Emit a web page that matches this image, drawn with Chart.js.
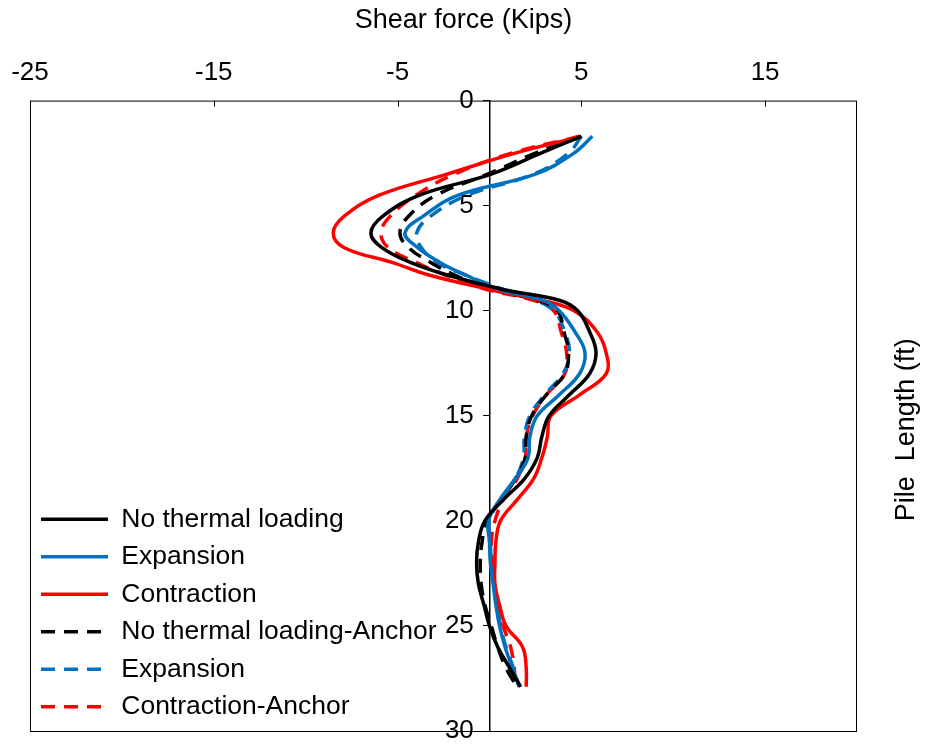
<!DOCTYPE html>
<html>
<head>
<meta charset="utf-8">
<script src="https://cdn.jsdelivr.net/npm/chart.js@4.4.0/dist/chart.umd.min.js"></script>
<style>
html, body { margin: 0; padding: 0; background: #fff; }
</style>
</head>
<body>
<canvas id="myChart" width="927" height="746"></canvas>
<script>
// depth below pile head (ft)
const depth = [1.7, 2.5, 3.5, 4.5, 5.5, 6.3, 7, 7.7, 8.3, 9, 9.5, 10, 11, 12, 13, 14, 15, 16, 17, 18, 19, 20, 21, 22, 23, 24, 25, 26, 27, 27.9];

// shear force (kips)
const noThermal = [5.0, 2.8, 0.1, -3.8, -5.8, -6.45, -5.85, -4.3, -2.3, 0.8, 3.8, 4.8, 5.45, 5.8, 5.45, 4.35, 3.25, 2.85, 2.6, 1.9, 0.75, -0.25, -0.6, -0.7, -0.6, -0.3, 0.0, 0.45, 1.1, 1.7];
const expansion = [5.6, 4.6, 2.5, -1.7, -3.6, -4.6, -3.9, -2.7, -1.3, 0.6, 2.9, 3.8, 4.65, 5.2, 4.9, 3.8, 2.6, 2.2, 2.1, 1.4, 0.55, -0.05, 0.0, 0.05, 0.2, 0.35, 0.55, 0.85, 1.25, 1.65];
const contraction = [5.0, 1.4, -2.3, -6.0, -7.9, -8.5, -7.9, -5.3, -3.3, 0.1, 2.8, 4.6, 5.85, 6.35, 6.35, 4.9, 3.35, 3.15, 2.85, 2.4, 1.5, 0.6, 0.35, 0.3, 0.3, 0.55, 0.9, 1.8, 2.0, 2.0];
const noThermalAnchor = [5.0, 2.5, -0.1, -2.9, -4.4, -4.87, -4.4, -3.2, -1.9, 0.2, 2.6, 3.7, 4.05, 4.3, 4.1, 3.1, 2.3, 2.0, 1.95, 1.4, 0.65, -0.15, -0.4, -0.5, -0.45, -0.25, 0.1, 0.45, 0.9, 1.5];
const expansionAnchor = [5.0, 4.3, 2.4, -1.2, -3.2, -3.96, -3.7, -2.85, -1.3, 0.8, 2.5, 3.5, 4.1, 4.35, 4.0, 3.0, 2.2, 1.9, 1.85, 1.4, 0.6, 0.0, 0.05, 0.1, 0.25, 0.45, 0.6, 0.9, 1.3, 1.6];
const contractionAnchor = [4.9, 1.2, -1.9, -4.0, -5.4, -5.9, -5.5, -4.0, -2.4, -0.1, 2.4, 3.5, 3.9, 4.2, 4.1, 3.1, 2.35, 2.0, 1.95, 1.5, 0.75, 0.3, 0.1, 0.15, 0.25, 0.5, 0.75, 1.15, 1.35, 1.4];

const xTicks = [-25, -15, -5, 5, 15];

const BLACK = '#000000';
const BLUE = '#0070C0';
const RED = '#FF0000';
const FONT = '"Liberation Sans", Arial, sans-serif';

Chart.defaults.font.family = FONT;
Chart.defaults.color = '#000';

function pts(vals) {
    return vals.map((v, i) => ({ x: v, y: depth[i] }));
}

function series(label, vals, color, dashed) {
    return {
        label: label,
        data: pts(vals),
        showLine: true,
        borderColor: color,
        backgroundColor: color,
        borderWidth: 3.5,
        borderDash: dashed ? [14, 9] : [],
        pointRadius: 0,
        tension: 0.4,
        fill: false
    };
}

// no extra room for the end labels of the vertical axes
function noPad(axis) {
    axis.paddingTop = 0;
    axis.paddingBottom = 0;
}

// frame, inward top ticks, right-hand axis title, legend placed in plot area
const framePlugin = {
    id: 'frame',
    afterLayout(chart) {
        const lg = chart.legend;
        const a = chart.chartArea;
        if (lg) {
            lg.top = a.top;
            lg.bottom = a.bottom;
            lg.height = a.bottom - a.top;
        }
    },
    afterDraw(chart) {
        const ctx = chart.ctx;
        const a = chart.chartArea;
        const xs = chart.scales.x;
        ctx.save();
        ctx.strokeStyle = '#000';
        ctx.lineWidth = 1;
        ctx.strokeRect(a.left + 0.5, a.top + 0.5, a.right - a.left - 1, a.bottom - a.top);
        xTicks.forEach(v => {
            const px = Math.round(xs.getPixelForValue(v)) + 0.5;
            ctx.beginPath();
            ctx.moveTo(px, a.top);
            ctx.lineTo(px, a.top + 6);
            ctx.stroke();
        });
        ctx.translate(a.right + 50, (a.top + a.bottom) / 2 + 14);
        ctx.rotate(-Math.PI / 2);
        ctx.font = '27px ' + FONT;
        ctx.fillStyle = '#000';
        ctx.textAlign = 'center';
        ctx.textBaseline = 'middle';
        ctx.fillText('Pile  Length (ft)', 0, 0);
        ctx.restore();
    }
};

const ctx = document.getElementById('myChart').getContext('2d');
const myChart = new Chart(ctx, {
    type: 'scatter',
    data: {
        datasets: [
            series('No thermal loading', noThermal, BLACK, false),
            series('Expansion', expansion, BLUE, false),
            series('Contraction', contraction, RED, false),
            series('No thermal loading-Anchor', noThermalAnchor, BLACK, true),
            series('Expansion', expansionAnchor, BLUE, true),
            series('Contraction-Anchor', contractionAnchor, RED, true)
        ]
    },
    options: {
        responsive: false,
        animation: false,
        layout: { padding: { left: 0, right: 0, top: 4, bottom: 15 } },
        plugins: {
            title: {
                display: true,
                text: 'Shear force (Kips)',
                font: { size: 27, weight: 'normal' },
                color: '#000',
                padding: { top: 0, bottom: 9 }
            },
            legend: {
                position: 'chartArea',
                align: 'end',
                labels: {
                    usePointStyle: true,
                    pointStyle: 'line',
                    pointStyleWidth: 67,
                    boxHeight: 26,
                    padding: 11,
                    font: { size: 26.5 },
                    color: '#000',
                    generateLabels(chart) {
                        const items = Chart.defaults.plugins.legend.labels.generateLabels(chart);
                        items.forEach(it => {
                            const ds = chart.data.datasets[it.datasetIndex];
                            it.lineDash = ds.borderDash;
                            it.lineWidth = ds.borderWidth;
                            it.strokeStyle = ds.borderColor;
                        });
                        return items;
                    }
                }
            },
            tooltip: { enabled: false }
        },
        scales: {
            x: {
                type: 'linear',
                position: 'top',
                min: -25,
                max: 20,
                afterBuildTicks: axis => { axis.ticks = xTicks.map(v => ({ value: v })); },
                afterFit: axis => { axis.paddingLeft = 30; axis.paddingRight = 70; },
                grid: { display: true, drawOnChartArea: false, drawTicks: false },
                border: { display: false },
                ticks: { font: { size: 26 }, color: '#000', padding: 12, maxRotation: 0 }
            },
            y: {
                type: 'linear',
                position: { x: 0 },
                reverse: true,
                min: 0,
                max: 30,
                afterFit: noPad,
                grid: { display: true, drawOnChartArea: false, drawTicks: true, tickLength: 6, color: '#000' },
                border: { display: true, color: '#000', width: 1.5 },
                ticks: { stepSize: 5, display: false }
            },
            // carries the depth labels, set just left of the x = 0 axis line
            yLabels: {
                type: 'linear',
                axis: 'y',
                position: { x: -0.85 },
                reverse: true,
                min: 0,
                max: 30,
                afterFit: noPad,
                grid: { display: false },
                border: { display: false },
                ticks: { stepSize: 5, font: { size: 26 }, color: '#000' }
            }
        }
    },
    plugins: [framePlugin]
});
</script>
</body>
</html>
